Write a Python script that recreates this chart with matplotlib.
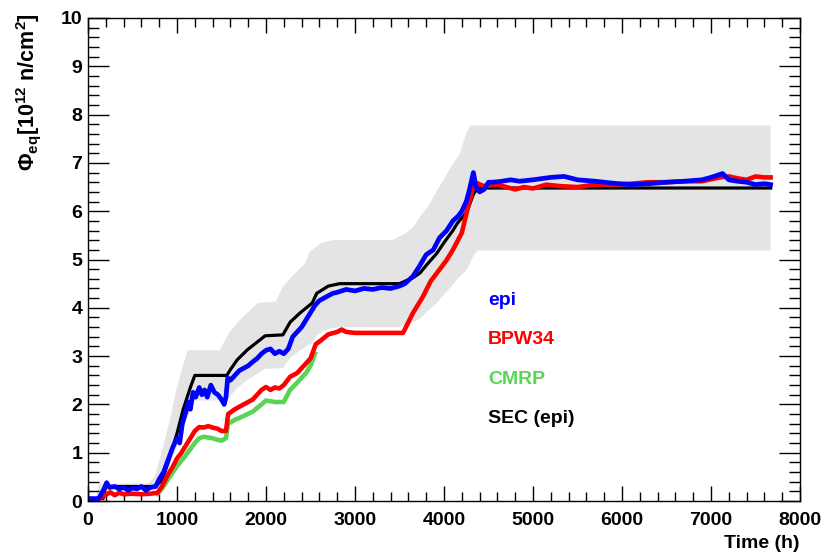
import numpy as np
import matplotlib
matplotlib.use("Agg")
import matplotlib.pyplot as plt
from matplotlib.ticker import MultipleLocator

# Dati (tempo in ore, fluenza in 1e12 n/cm^2)
sec_t = [0, 170, 200, 740, 790, 830, 900, 1000, 1070, 1150, 1200, 1560, 1600, 1675, 1790,
         1990, 2190, 2270, 2380, 2520, 2570, 2700, 2830, 3500, 3560, 3650, 3730, 3810,
         3920, 4000, 4100, 4150, 4210, 4260, 4330, 4380, 7670]
sec_v = [0.05, 0.05, 0.3, 0.3, 0.36, 0.42, 0.8, 1.4, 1.9, 2.35, 2.6, 2.6, 2.72, 2.92, 3.13,
         3.42, 3.44, 3.7, 3.89, 4.1, 4.3, 4.45, 4.5, 4.5, 4.55, 4.62, 4.72, 4.9,
         5.13, 5.35, 5.6, 5.75, 5.88, 6.0, 6.35, 6.48, 6.48]

epi_t = [0, 120, 180, 210, 240, 300, 350, 400, 450, 500, 550, 600, 650, 700, 760, 800, 850,
         900, 950, 1000, 1030, 1060, 1100, 1130, 1150, 1180, 1210, 1250, 1280, 1310, 1340,
         1380, 1420, 1460, 1500, 1530, 1550, 1570, 1600, 1650, 1700, 1750, 1800, 1850, 1900,
         1950, 2000, 2050, 2100, 2150, 2200, 2250, 2300, 2350, 2400, 2450, 2500, 2550, 2600,
         2650, 2700, 2750, 2800, 2900, 3000, 3100, 3200, 3300, 3400, 3500, 3560, 3650, 3720,
         3800, 3880, 3950, 4030, 4100, 4160, 4200, 4250, 4280, 4330, 4360, 4400, 4450, 4500,
         4550, 4650, 4750, 4850, 5000, 5200, 5350, 5500, 5700, 5900, 6100, 6300, 6500, 6700,
         6900, 7000, 7130, 7200, 7300, 7400, 7500, 7600, 7670]
epi_v = [0.05, 0.05, 0.25, 0.38, 0.28, 0.3, 0.25, 0.28, 0.22, 0.27, 0.25, 0.3, 0.22, 0.28,
         0.3, 0.45, 0.6, 0.85, 1.1, 1.3, 1.2, 1.6, 1.85, 2.05, 1.9, 2.25, 2.15, 2.35, 2.2,
         2.3, 2.15, 2.4, 2.25, 2.2, 2.1, 2.0, 2.15, 2.55, 2.5, 2.6, 2.7, 2.75, 2.8, 2.88,
         2.95, 3.05, 3.12, 3.15, 3.05, 3.1, 3.05, 3.15, 3.4, 3.5, 3.6, 3.75, 3.9, 4.05, 4.15,
         4.2, 4.25, 4.3, 4.32, 4.38, 4.35, 4.4, 4.38, 4.42, 4.4, 4.45, 4.5, 4.65, 4.85,
         5.1, 5.2, 5.45, 5.6, 5.8, 5.9, 6.0, 6.2, 6.4, 6.8, 6.5, 6.4, 6.45, 6.6,
         6.6, 6.62, 6.65, 6.62, 6.65, 6.7, 6.72, 6.65, 6.62, 6.58, 6.55, 6.57, 6.6, 6.62,
         6.65, 6.7, 6.78, 6.65, 6.62, 6.6, 6.55, 6.57, 6.55]

bpw_t = [0, 100, 150, 250, 300, 350, 400, 500, 600, 700, 780, 830, 900, 950, 1000, 1050,
         1100, 1150, 1200, 1250, 1300, 1350, 1400, 1450, 1500, 1550, 1575, 1650, 1750, 1850,
         1950, 2000, 2050, 2100, 2150, 2200, 2270, 2350, 2450, 2500, 2560, 2600, 2700, 2800,
         2850, 2900, 3000, 3540, 3650, 3760, 3850, 3920, 4030, 4100, 4200, 4270, 4330, 4370,
         4450, 4600, 4700, 4800, 4900, 5000, 5150, 5300, 5500, 5700, 5900, 6100, 6300, 6500,
         6700, 6900, 7100, 7200, 7300, 7400, 7500, 7600, 7670]
bpw_v = [0.05, 0.0, 0.08, 0.18, 0.12, 0.17, 0.14, 0.15, 0.14, 0.15, 0.17, 0.3, 0.55, 0.7,
         0.88, 1.0, 1.15, 1.3, 1.45, 1.53, 1.52, 1.55, 1.52, 1.5, 1.45, 1.45, 1.8, 1.9, 2.0,
         2.1, 2.3, 2.36, 2.3, 2.35, 2.33, 2.4, 2.57, 2.65, 2.85, 2.95, 3.25, 3.3, 3.45, 3.5,
         3.55, 3.5, 3.48, 3.48, 3.89, 4.22, 4.55, 4.72, 4.99, 5.2, 5.55, 6.09, 6.5, 6.58,
         6.52, 6.55, 6.5, 6.45, 6.5, 6.47, 6.55, 6.52, 6.5, 6.55, 6.55, 6.57, 6.6, 6.6,
         6.62, 6.62, 6.7, 6.72, 6.68, 6.65, 6.72, 6.7, 6.7]

cmrp_t = [780, 830, 900, 1000, 1100, 1200, 1250, 1300, 1400, 1450, 1500, 1550, 1575, 1650,
          1750, 1850, 1950, 2000, 2100, 2200, 2270, 2350, 2450, 2500, 2550]
cmrp_v = [0.15, 0.25, 0.45, 0.72, 0.95, 1.2, 1.3, 1.33, 1.3, 1.27, 1.25, 1.3, 1.6, 1.68,
          1.76, 1.85, 2.0, 2.08, 2.05, 2.05, 2.3, 2.45, 2.65, 2.8, 3.05]

incertezza = 0.2   # incertezza relativa del SEC
anticipo = 80      # il bordo superiore della banda anticipa di circa 80 h

plt.rcParams['font.family'] = ['Liberation Sans', 'DejaVu Sans']
plt.rcParams['font.weight'] = 'bold'
plt.rcParams['mathtext.fontset'] = 'custom'
plt.rcParams['mathtext.rm'] = 'Liberation Sans:bold'
plt.rcParams['mathtext.it'] = 'Liberation Sans:bold'
plt.rcParams['mathtext.bf'] = 'Liberation Sans:bold'

fig = plt.figure(figsize=(8.31, 5.58), dpi=100)
ax = fig.add_axes([88 / 831, 1 - 501 / 558, 712 / 831, 483 / 558])

#Banda grigia attorno al SEC
sec = np.array(sec_v)
t = np.array(sec_t, dtype=float)
t_sup = np.clip(t - anticipo, 0, None)
t_sup[-1] = t[-1]
bx = np.concatenate([t_sup, t[::-1]])
by = np.concatenate([sec * (1 + incertezza), (sec * (1 - incertezza))[::-1]])
ax.fill(bx, by, color="#e4e4e4", lw=0)

#Curve
ax.plot(sec_t, sec_v, color="black", lw=2.3)
ax.plot(cmrp_t, cmrp_v, color="#59d454", lw=3.3)
ax.plot(bpw_t, bpw_v, color="red", lw=3.3)
ax.plot(epi_t, epi_v, color="blue", lw=3.4)

ax.set_xlim(0, 8000)
ax.set_ylim(0, 10)
ax.xaxis.set_major_locator(MultipleLocator(1000))
ax.xaxis.set_minor_locator(MultipleLocator(200))
ax.yaxis.set_major_locator(MultipleLocator(1))
ax.yaxis.set_minor_locator(MultipleLocator(0.2))
ax.tick_params(which='both', direction='in', top=True, right=True, width=1)
ax.tick_params(axis='x', which='major', length=11, pad=8, labelsize=14)
ax.tick_params(axis='x', which='minor', length=6.5)
ax.tick_params(axis='y', which='major', length=15, pad=4, labelsize=14)
ax.tick_params(axis='y', which='minor', length=8)
for s in ax.spines.values():
    s.set_linewidth(1)

#Titoli degli assi
fig.text(800 / 831, 1 - 543 / 558, "Time (h)", ha='right', va='center', fontsize=14)
fig.text(29 / 831, 1 - 13 / 558, r'$\Phi_{eq}$[10$^{12}$ n/cm$^{2}$]', rotation=90,
         ha='center', va='top', fontsize=15.5)

#Legenda scritta a mano come nell'originale
etichette = ["epi", "BPW34", "CMRP", "SEC (epi)"]
colori = ["blue", "red", "#59d454", "black"]
for i, (e, c) in enumerate(zip(etichette, colori)):
    ax.text(0.562, 0.406 - i * 0.0815, e, color=c, fontsize=14, transform=ax.transAxes,
            va='baseline', ha='left')

plt.savefig("out.png", dpi=100)
